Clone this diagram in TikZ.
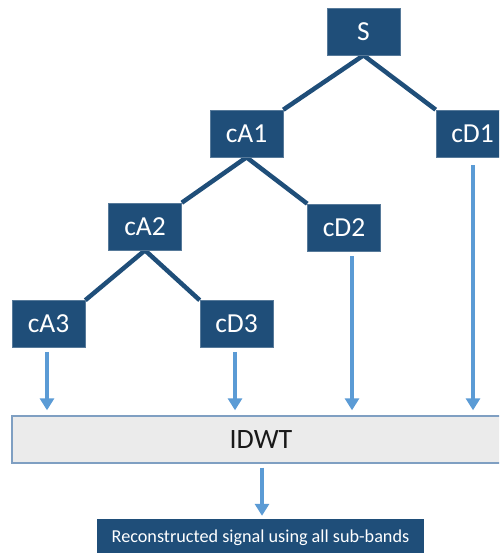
\documentclass[tikz,border=0pt]{standalone}
\usepackage{fontspec}
\setmainfont{Carlito}
\usetikzlibrary{arrows.meta,backgrounds,calc}

\definecolor{boxblue}{HTML}{1F4E79}
\definecolor{arrowblue}{HTML}{5B9BD5}
\definecolor{panelgray}{HTML}{EBEBEB}
\definecolor{panelline}{HTML}{7F9FC2}

\tikzset{
  coef/.style={rectangle, fill=boxblue, draw=boxblue!75!white, line width=0.6pt,
    text=white, inner sep=0pt, minimum width=73pt, minimum height=47pt,
    font=\fontsize{27.5}{31}\selectfont},
  branch/.style={draw=boxblue, line width=4.5pt},
  flow/.style={draw=arrowblue, line width=3.5pt,
    -{Triangle[width=14pt,length=12pt]}},
  panel/.style={rectangle, fill=panelgray, draw=panelline, line width=1.4pt,
    inner sep=0pt, minimum width=498pt, minimum height=47pt,
    text=black!90, font=\fontsize{28}{32}\selectfont},
  result/.style={rectangle, fill=boxblue, text=white, inner sep=0pt,
    minimum width=327pt, minimum height=38pt,
    font=\fontsize{18.2}{21}\selectfont}
}

\begin{document}
\begin{tikzpicture}[x=1pt, y=-1pt]
  \useasboundingbox (0,0) rectangle (499,553);
  \clip (0,0) rectangle (499,553);

  % decomposition tree
  \node[coef] (S)   at (363.5, 31.5) {S};
  \node[coef] (cA1) at (246.5,133.5) {cA1};
  \node[coef] (cD1) at (472.5,133.5) {cD1};
  \node[coef] (cA2) at (145,226.5)   {cA2};
  \node[coef] (cD2) at (344,227.5)   {cD2};
  \node[coef] (cA3) at (48.5,324)    {cA3};
  \node[coef] (cD3) at (236.5,324)   {cD3};

  % reconstruction stage
  \node[panel]  (IDWT) at (261,439.5) {IDWT};
  \node[result] (out)  at (260.5,538) {Reconstructed signal using all sub-bands};

  \begin{scope}[on background layer]
    \draw[branch] (S.south)   -- (cA1.north east);
    \draw[branch] (S.south)   -- (cD1.north west);
    \draw[branch] (cA1.south) -- (cA2.north east);
    \draw[branch] (cA1.south) -- (cD2.north west);
    \draw[branch] (cA2.south) -- (cA3.north east);
    \draw[branch] (cA2.south) -- (cD3.north west);
  \end{scope}

  % sub-bands fed into the inverse transform
  \draw[flow] ($(cA3.south)+(-1.5,4)$) -- ($(IDWT.north -| cA3.south)+(-1.5,-5)$);
  \draw[flow] ($(cD3.south)+(-1.5,4)$) -- ($(IDWT.north -| cD3.south)+(-1.5,-5)$);
  \draw[flow] ($(cD2.south)+(8,5)$)    -- ($(IDWT.north -| cD2.south)+(8,-5)$);
  \draw[flow] ($(cD1.south)+(0.5,8)$)  -- ($(IDWT.north -| cD1.south)+(0.5,-5)$);
  \draw[flow] ($(IDWT.south)+(1,4)$)   -- ($(out.north)+(1.5,-3)$);
\end{tikzpicture}
\end{document}
